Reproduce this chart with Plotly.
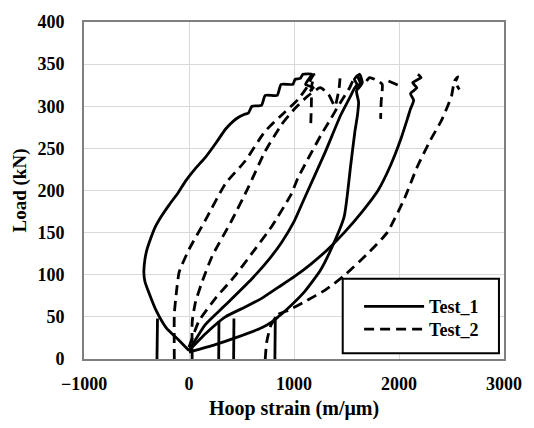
import plotly.graph_objects as go

# ---------------- data ----------------
# Test_1 (solid) gauges
t1_a_x = [0, -94, -217, -311, -380, -420, -430, -420, -400, -365, -320, -260, -189, -100, -28, 60, 160, 260, 349, 420, 472, 520, 566, 600, 690, 726, 840, 877, 990, 1010, 1060, 1085, 1170, 1110, 1185, 1150]
t1_a_y = [10, 22, 37, 57, 78, 92, 103, 118, 130, 143, 157, 170, 183, 198, 212, 226, 240, 257, 273, 282, 287, 290, 292, 300, 301, 313, 313, 326, 326, 332, 333, 338, 338, 326, 322, 318]
t1_b_x = [0, 157, 346, 597, 760, 880, 1000, 1104, 1292, 1443, 1530, 1570, 1600, 1575, 1625, 1650, 1605]
t1_b_y = [10, 41, 64, 95, 118, 138, 163, 192, 244, 289, 310, 320, 326, 332, 338, 328, 320]
t1_c_x = [0, 157, 346, 540, 692, 849, 1006, 1164, 1321, 1478, 1650, 1800, 1920, 2020, 2080, 2110, 2140, 2110, 2170, 2130, 2210, 2180]
t1_c_y = [10, 30, 50, 62, 72, 85, 98, 113, 130, 150, 175, 200, 230, 262, 285, 297, 307, 315, 322, 328, 334, 338]
t1_d_x = [0, 250, 440, 692, 800, 849, 915, 1101, 1250, 1352, 1478, 1540, 1580, 1604, 1615, 1595, 1630, 1600]
t1_d_y = [8, 17, 25, 37, 45, 50, 57, 80, 105, 130, 169, 230, 270, 289, 305, 318, 328, 336]
t1_v_x = [-305, -300, None, 283, 285, None, 425, 428, None, 818, 822]
t1_v_y = [0, 48, None, 0, 45, None, 0, 48, None, 0, 50]

# Test_2 (dashed) gauges
t2_e_x = [-140, -140, -126, -94, 0, 157, 346, 535, 723, 912, 1038, 1120, 1160, 1190, 1170, 1165, 1160]
t2_e_y = [0, 53, 72, 103, 130, 165, 208, 235, 270, 293, 308, 322, 332, 338, 325, 300, 280]
t2_f_x = [30, 31, 63, 126, 220, 409, 566, 723, 880, 1006, 1130, 1250, 1330, 1390, 1430, 1440]
t2_f_y = [0, 45, 68, 92, 122, 165, 204, 246, 278, 297, 312, 322, 314, 300, 322, 336]
t2_g_x = [0, 94, 252, 440, 597, 786, 975, 1038, 1258, 1350, 1420, 1480, 1530, 1560, 1600, 1660, 1720, 1800, 1840, 1830, 1825]
t2_g_y = [14, 45, 72, 99, 125, 157, 196, 215, 266, 285, 300, 312, 322, 330, 336, 326, 334, 330, 326, 305, 285]
t2_h_x = [726, 740, 780, 849, 950, 1101, 1300, 1478, 1700, 1887, 2050, 2170, 2300, 2400, 2453, 2500, 2520, 2560, 2530, 2575]
t2_h_y = [0, 20, 40, 53, 58, 68, 82, 99, 125, 150, 190, 227, 260, 282, 297, 312, 325, 335, 330, 320]
t2_top_x = [1900, 2010]
t2_top_y = [330, 324]


def join(*segs):
    xs, ys = [], []
    for sx, sy in segs:
        if xs:
            xs.append(None)
            ys.append(None)
        xs.extend(sx)
        ys.extend(sy)
    return xs, ys


t1_x, t1_y = join((t1_a_x, t1_a_y), (t1_b_x, t1_b_y), (t1_c_x, t1_c_y),
                  (t1_d_x, t1_d_y), (t1_v_x, t1_v_y))
t2_x, t2_y = join((t2_e_x, t2_e_y), (t2_f_x, t2_f_y), (t2_g_x, t2_g_y),
                  (t2_h_x, t2_h_y), (t2_top_x, t2_top_y))

FONT = "Liberation Serif"
LEG_FONT = dict(family=FONT, size=18, color="black", weight="bold")

fig = go.Figure()
fig.add_trace(go.Scatter(x=t1_x, y=t1_y, mode="lines", name="Test_1", legend="legend",
                         showlegend=True,
                         line=dict(color="black", width=2.8, shape="spline", smoothing=0.5)))
fig.add_trace(go.Scatter(x=t2_x, y=t2_y, mode="lines", name="Test_2", legend="legend2",
                         showlegend=True,
                         line=dict(color="black", width=2.8, dash="10px,6px",
                                   shape="spline", smoothing=0.5)))

axis_common = dict(
    showgrid=True, gridcolor="#d9d9d9", gridwidth=1,
    showline=True, mirror=True, linecolor="#7f7f7f", linewidth=2,
    zeroline=False, ticks="",
    tickfont=dict(family=FONT, size=18, color="black", weight="bold"),
)

fig.update_layout(
    width=534, height=428,
    showlegend=True,
    margin=dict(l=84, r=26, t=18, b=66),
    paper_bgcolor="white", plot_bgcolor="white",
    xaxis=dict(range=[-1000, 3000], dtick=1000, tick0=0,
               title=dict(text="Hoop strain (m/μm)", standoff=8,
                          font=dict(family=FONT, size=20, color="black", weight="bold")),
               ticklabelstandoff=7, **axis_common),
    yaxis=dict(range=[0, 400], dtick=50, tick0=0,
               title=dict(text="Load (kN)", standoff=6,
                          font=dict(family=FONT, size=19, color="black", weight="bold")),
               ticklabelstandoff=14, **axis_common),
    legend=dict(x=0.655, y=0.155, xanchor="left", yanchor="middle", visible=True,
                bgcolor="rgba(0,0,0,0)", borderwidth=0, itemwidth=60, font=LEG_FONT),
    legend2=dict(x=0.655, y=0.088, xanchor="left", yanchor="middle", visible=True,
                 bgcolor="rgba(0,0,0,0)", borderwidth=0, itemwidth=60, font=LEG_FONT),
    shapes=[dict(type="rect", xref="paper", yref="paper",
                 x0=0.616, x1=0.988, y0=0.017, y1=0.238,
                 line=dict(color="black", width=2), fillcolor="white", layer="above")],
)

fig.write_html("out.html")
